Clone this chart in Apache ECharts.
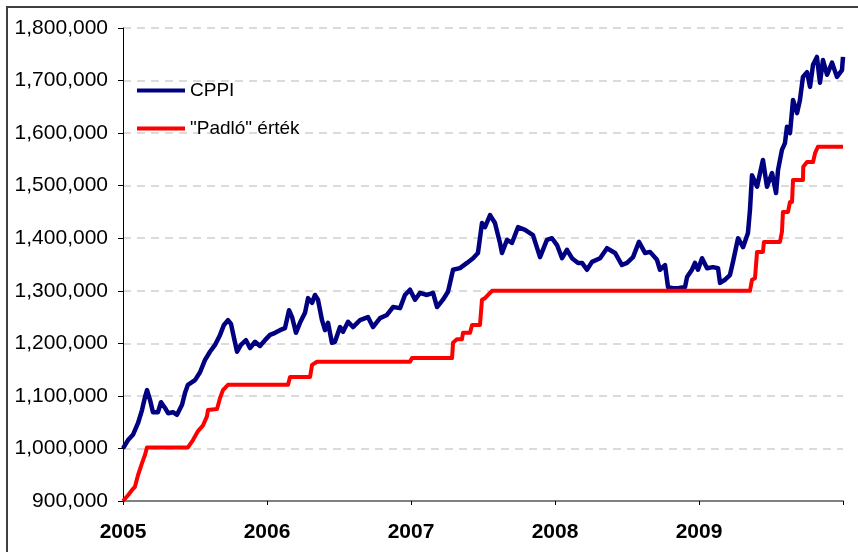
<!DOCTYPE html>
<html>
<head>
<meta charset="utf-8">
<script src="https://cdn.jsdelivr.net/npm/echarts@6/dist/echarts.min.js"></script>
<style>
  html, body { margin: 0; padding: 0; background: #fff; }
  #chart { width: 858px; height: 552px; }
</style>
</head>
<body>
<div id="chart"></div>
<script>
// time in fractional years, values in thousands
const cppiT = [2005.000, 2005.035, 2005.069, 2005.104, 2005.132, 2005.153, 2005.167, 2005.188, 2005.208, 2005.243,
  2005.264, 2005.292, 2005.313, 2005.347, 2005.375, 2005.410, 2005.431, 2005.451, 2005.500, 2005.535,
  2005.569, 2005.604, 2005.639, 2005.674, 2005.701, 2005.729, 2005.750, 2005.771, 2005.792, 2005.819,
  2005.854, 2005.882, 2005.917, 2005.951, 2005.986, 2006.021, 2006.056, 2006.090, 2006.125, 2006.153,
  2006.174, 2006.201, 2006.229, 2006.264, 2006.285, 2006.313, 2006.333, 2006.354, 2006.382, 2006.403,
  2006.424, 2006.451, 2006.472, 2006.507, 2006.528, 2006.563, 2006.597, 2006.646, 2006.701, 2006.736,
  2006.785, 2006.833, 2006.875, 2006.924, 2006.958, 2006.993, 2007.028, 2007.063, 2007.111, 2007.153,
  2007.181, 2007.222, 2007.257, 2007.292, 2007.340, 2007.389, 2007.431, 2007.465, 2007.493, 2007.514,
  2007.549, 2007.583, 2007.618, 2007.632, 2007.667, 2007.701, 2007.743, 2007.792, 2007.847, 2007.896,
  2007.944, 2007.979, 2008.014, 2008.049, 2008.083, 2008.118, 2008.160, 2008.188, 2008.222, 2008.257,
  2008.313, 2008.361, 2008.417, 2008.465, 2008.500, 2008.542, 2008.583, 2008.625, 2008.660, 2008.708,
  2008.729, 2008.764, 2008.785, 2008.819, 2008.854, 2008.903, 2008.917, 2008.951, 2008.972, 2008.993,
  2009.021, 2009.056, 2009.097, 2009.132, 2009.146, 2009.181, 2009.215, 2009.236, 2009.271, 2009.306,
  2009.340, 2009.354, 2009.368, 2009.403, 2009.424, 2009.444, 2009.472, 2009.507, 2009.535, 2009.549,
  2009.576, 2009.597, 2009.611, 2009.632, 2009.653, 2009.681, 2009.701, 2009.722, 2009.750, 2009.771,
  2009.792, 2009.819, 2009.840, 2009.861, 2009.889, 2009.924, 2009.958, 2009.993, 2010.000];
const cppiV = [1000, 1016, 1026, 1048, 1073, 1098, 1111, 1092, 1069, 1069,
  1088, 1077, 1067, 1069, 1064, 1083, 1106, 1121, 1130, 1145,
  1168, 1184, 1197, 1216, 1235, 1244, 1237, 1210, 1184, 1197,
  1206, 1191, 1203, 1195, 1206, 1216, 1220, 1225, 1229, 1263,
  1250, 1220, 1239, 1258, 1286, 1277, 1292, 1283, 1244, 1225,
  1239, 1201, 1203, 1231, 1222, 1241, 1231, 1244, 1250, 1231,
  1248, 1254, 1269, 1267, 1292, 1302, 1283, 1296, 1292, 1296,
  1269, 1283, 1298, 1340, 1343, 1353, 1362, 1372, 1429, 1421,
  1444, 1429, 1391, 1372, 1397, 1391, 1421, 1416, 1406, 1364,
  1397, 1400, 1387, 1362, 1378, 1362, 1353, 1353, 1340, 1355,
  1362, 1381, 1372, 1349, 1353, 1364, 1393, 1372, 1374, 1359,
  1340, 1349, 1307, 1305, 1305, 1307, 1326, 1340, 1353, 1340,
  1362, 1343, 1345, 1343, 1315, 1321, 1330, 1355, 1400, 1383,
  1410, 1454, 1520, 1498, 1524, 1549, 1498, 1524, 1486, 1530,
  1568, 1581, 1612, 1600, 1663, 1638, 1663, 1707, 1716, 1688,
  1730, 1745, 1696, 1739, 1711, 1734, 1707, 1720, 1745];

const floorT = [2005.000, 2005.035, 2005.063, 2005.083, 2005.104, 2005.132, 2005.153, 2005.167, 2005.451, 2005.486,
  2005.521, 2005.556, 2005.583, 2005.590, 2005.653, 2005.674, 2005.694, 2005.729, 2006.146, 2006.160,
  2006.299, 2006.313, 2006.347, 2006.993, 2007.007, 2007.285, 2007.292, 2007.319, 2007.354, 2007.361,
  2007.410, 2007.424, 2007.479, 2007.493, 2007.514, 2007.535, 2007.563, 2009.354, 2009.368, 2009.389,
  2009.403, 2009.444, 2009.451, 2009.562, 2009.576, 2009.583, 2009.618, 2009.632, 2009.646, 2009.653,
  2009.722, 2009.724, 2009.750, 2009.792, 2009.806, 2009.826, 2010.000];
const floorV = [900, 911, 921, 927, 949, 972, 988, 1002, 1002, 1016,
  1033, 1044, 1061, 1073, 1075, 1096, 1111, 1121, 1121, 1136,
  1136, 1159, 1165, 1165, 1172, 1172, 1201, 1208, 1208, 1220,
  1220, 1235, 1235, 1283, 1286, 1292, 1300, 1300, 1321, 1324,
  1374, 1374, 1393, 1393, 1412, 1450, 1450, 1469, 1469, 1511,
  1511, 1536, 1545, 1545, 1562, 1574, 1574];

const seriesNames = ['CPPI', '"Padló" érték'];
const yearLabels = [2005, 2006, 2007, 2008, 2009];

const pairs = (t, v) => t.map((x, i) => [x, v[i] * 1000]);

const chart = echarts.init(document.getElementById('chart'), null, { renderer: 'canvas' });
const FONT = '"Liberation Sans", Arial, sans-serif';

chart.setOption({
  animation: false,
  backgroundColor: '#fff',
  textStyle: { fontFamily: FONT },
  graphic: [{
    type: 'rect',
    shape: { x: 7, y: 7, width: 900, height: 600 },
    style: { fill: 'none', stroke: '#404040', lineWidth: 2 },
    silent: true
  }],
  grid: { left: 123, right: 15, top: 28, bottom: 51 },
  legend: {
    data: seriesNames,
    orient: 'vertical',
    left: 137,
    top: 81,
    padding: 0,
    itemWidth: 48,
    itemHeight: 4,
    itemGap: 19,
    icon: 'rect',
    textStyle: { fontSize: 19, color: '#000', fontFamily: FONT }
  },
  xAxis: {
    type: 'value',
    min: 2005,
    max: 2010,
    interval: 1,
    axisLine: { lineStyle: { color: '#808080', width: 2 } },
    axisTick: { length: 4, lineStyle: { color: '#000' } },
    splitLine: { show: false },
    axisLabel: {
      margin: 21,
      fontSize: 21,
      fontWeight: 'bold',
      color: '#000',
      fontFamily: FONT,
      formatter: v => yearLabels.includes(v) ? String(v) : ''
    }
  },
  yAxis: {
    type: 'value',
    min: 900000,
    max: 1800000,
    interval: 100000,
    axisLine: { show: true, lineStyle: { color: '#000', width: 1 } },
    axisTick: { show: true, length: 5, lineStyle: { color: '#000' } },
    splitLine: { lineStyle: { color: '#d0d0d0', width: 1.5, type: [8, 6] } },
    axisLabel: {
      margin: 15,
      fontSize: 21,
      color: '#000',
      fontFamily: FONT,
      formatter: v => v.toLocaleString('en-US')
    }
  },
  series: [
    {
      name: seriesNames[0],
      type: 'line',
      data: pairs(cppiT, cppiV),
      symbol: 'none',
      color: '#000080',
      lineStyle: { width: 4.5, color: '#000080', join: 'round' }
    },
    {
      name: seriesNames[1],
      type: 'line',
      data: pairs(floorT, floorV),
      symbol: 'none',
      color: '#ff0000',
      lineStyle: { width: 4, color: '#ff0000', join: 'round' }
    }
  ]
});
</script>
</body>
</html>
